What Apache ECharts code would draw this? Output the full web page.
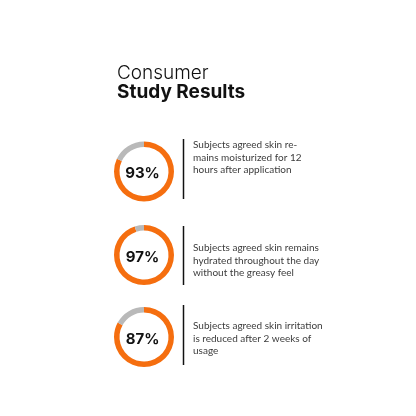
<!DOCTYPE html>
<html><head><meta charset="utf-8">
<script src="https://cdn.jsdelivr.net/npm/echarts@6/dist/echarts.min.js"></script>
<style>html,body{margin:0;padding:0;background:#fff}#c{width:416px;height:416px}</style>
</head><body><div id="c"></div>
<script>
const titleLine1 = "Consumer";
const titleLine2 = "Study Results";
const percentLabels = [93, 97, 87];
const ringFill = [82, 95, 83];
const descriptions = [
  "Subjects agreed skin re-\nmains moisturized for 12\nhours after application",
  "Subjects agreed skin remains\nhydrated throughout the day\nwithout the greasy feel",
  "Subjects agreed skin irritation\nis reduced after 2 weeks of\nusage"
];

const centersY = [171.5, 255, 337];
const textTops = [139, 242, 320];
const lineSpans = [[139, 199], [226, 285], [305, 365]];
const FONT = "Inter";
const chart = echarts.init(document.getElementById('c'));

const series = ringFill.map((v, i) => ({
  type: 'pie',
  center: [144, centersY[i]],
  radius: [24.5, 30],
  startAngle: 90,
  clockwise: true,
  silent: true,
  label: { show: false },
  labelLine: { show: false },
  emphasis: { disabled: true },
  data: [
    { value: v, itemStyle: { color: '#F56E0F' } },
    { value: 100 - v, itemStyle: { color: '#B9B9B9' } }
  ]
}));

const graphic = [];
percentLabels.forEach((p, i) => {
  graphic.push({
    type: 'text', silent: true,
    x: 142.5, y: centersY[i] + 2,
    style: { text: p + '%', font: 'bold 15px ' + FONT, fill: '#111', textAlign: 'center', textVerticalAlign: 'middle' }
  });
  graphic.push({
    type: 'line', silent: true,
    shape: { x1: 183.5, y1: lineSpans[i][0], x2: 183.5, y2: lineSpans[i][1] },
    style: { stroke: '#111', lineWidth: 1.5 }
  });
  graphic.push({
    type: 'text', silent: true,
    x: 193, y: textTops[i],
    style: { text: descriptions[i], font: '10px Lato', fill: '#3c3c3c', lineHeight: 12.3 }
  });
});
graphic.push({ type: 'text', silent: true, x: 117, y: 64, style: { text: titleLine1, font: '300 19px ' + FONT, fill: '#111' } });
graphic.push({ type: 'text', silent: true, x: 117, y: 83, style: { text: titleLine2, font: 'bold 19px ' + FONT, fill: '#111' } });

chart.setOption({ animation: false, backgroundColor: '#fff', series, graphic });
</script></body></html>
